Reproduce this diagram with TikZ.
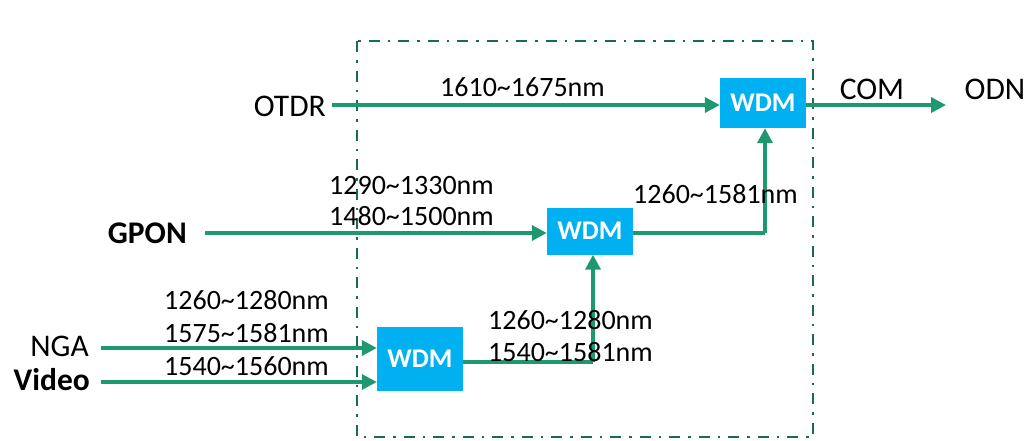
\documentclass[tikz,border=0pt]{standalone}
\usepackage{fontspec}
\setmainfont{Carlito}
\usetikzlibrary{arrows.meta}
\definecolor{lgreen}{RGB}{30,152,112}
\definecolor{dgreen}{RGB}{25,108,82}
\definecolor{wblue}{RGB}{0,176,240}
\tikzset{
  wdm/.style={fill=wblue, draw=none, text=white, font=\fontsize{27}{30}\selectfont\bfseries, inner sep=0pt},
  conn/.style={draw=lgreen, line width=3.6pt},
  arr/.style={conn, -{Triangle[length=15pt,width=15pt]}},
  lbl/.style={font=\fontsize{28}{32}\selectfont, inner sep=0pt, anchor=west},
  src/.style={font=\fontsize{31.5}{36}\selectfont, inner sep=0pt},
  srcb/.style={font=\fontsize{31.5}{36}\selectfont\bfseries, inner sep=0pt},
}
\begin{document}
\begin{tikzpicture}[x=1pt,y=-1pt]
\useasboundingbox (0,0) rectangle (1029,440);
% dashed frame
\draw[dgreen, line width=2.7pt, dash pattern=on 11pt off 8pt on 2.5pt off 8pt] (357,41) rectangle (813,437);
% WDM boxes
\node[wdm, minimum width=86pt, minimum height=50pt] (w3) at (763,103) {WDM};
\node[wdm, minimum width=86pt, minimum height=47pt] (w2) at (590,231) {WDM};
\node[wdm, minimum width=86pt, minimum height=64pt] (w1) at (420,359) {WDM};
% source texts
\node[src, anchor=east] (otdr) at (326,106) {OTDR};
\node[srcb, anchor=east] (gpon) at (187,233) {GPON};
\node[src, anchor=east] (nga) at (89,346) {NGA};
\node[srcb, anchor=east] (video) at (90,380) {Video};
\node[src] (com) at (872,89) {COM};
\node[src] (odn) at (995,89) {ODN};
% coordinates
\coordinate (otdrs) at (332,105);
\coordinate (gpons) at (205,233);
\coordinate (ngas) at (101,348);
\coordinate (videos) at (101,382);
\coordinate (comend) at (946,105);
\coordinate (c2) at (765,233);
\coordinate (c1) at (593,362);
% connectors
\draw[arr] (otdrs) -- (w3.west |- otdrs);
\draw[arr] (w3.east |- comend) -- (comend);
\draw[arr] (gpons) -- (w2.west |- gpons);
\draw[arr] (ngas) -- (w1.west |- ngas);
\draw[arr] (videos) -- (w1.west |- videos);
\draw[conn] (w1.east |- c1) -- (c1);
\draw[arr] (c1) -- (c1 |- w2.south);
\draw[conn] (w2.east |- c2) -- (c2);
\draw[arr] (c2) -- (c2 |- w3.south);
% labels
\node[lbl] (l1) at (440,87) {1610\textasciitilde 1675nm};
\node[lbl] (l2) at (329,186) {1290\textasciitilde 1330nm};
\node[lbl] (l3) at (329,216) {1480\textasciitilde 1500nm};
\node[lbl] (l4) at (633,194) {1260\textasciitilde 1581nm};
\node[lbl] (l5) at (164,300) {1260\textasciitilde 1280nm};
\node[lbl] (l6) at (164,333) {1575\textasciitilde 1581nm};
\node[lbl] (l7) at (164,366) {1540\textasciitilde 1560nm};
\node[lbl] (l8) at (488,320) {1260\textasciitilde 1280nm};
\node[lbl] (l9) at (488,352) {1540\textasciitilde 1581nm};
\end{tikzpicture}
\end{document}
